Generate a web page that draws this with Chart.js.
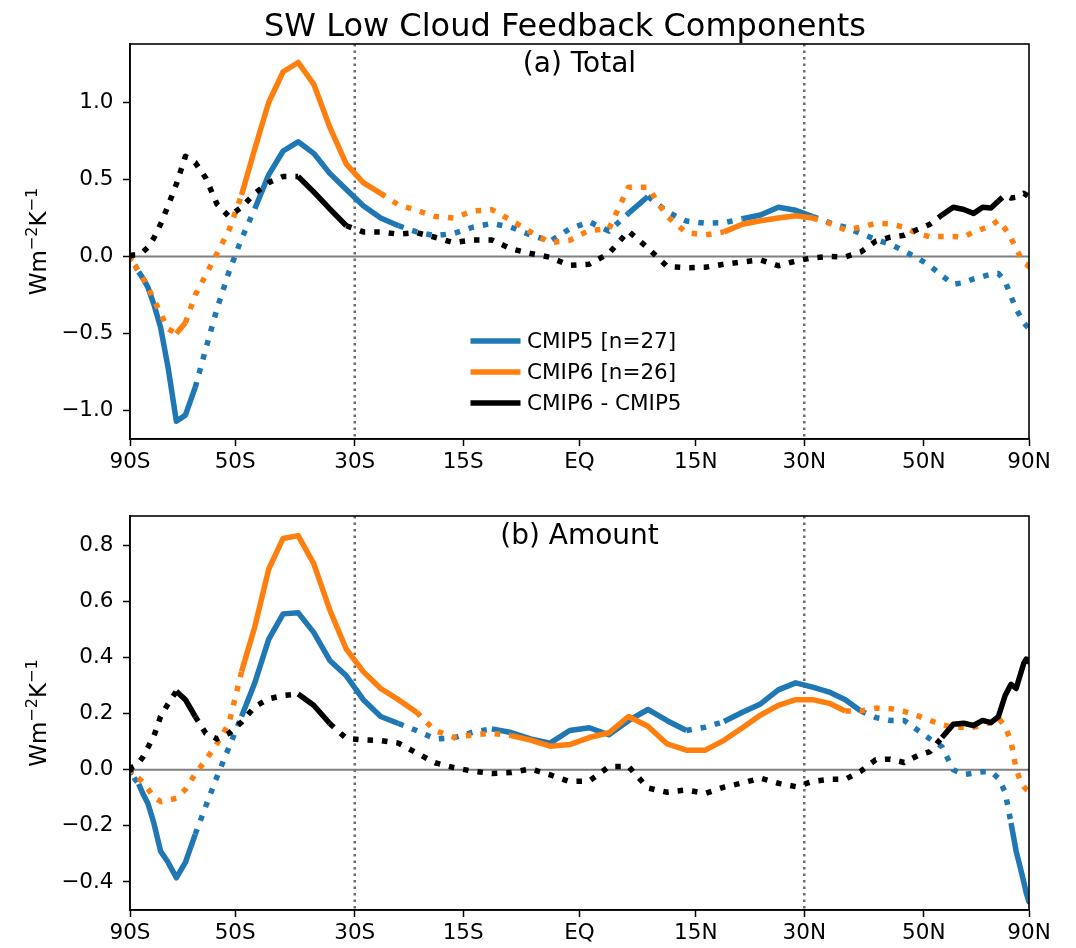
<!DOCTYPE html>
<html>
<head>
<meta charset="utf-8">
<title>SW Low Cloud Feedback Components</title>
<script src="https://cdn.jsdelivr.net/npm/chart.js@4.4.0/dist/chart.umd.min.js"></script>
<style>
  html, body { margin: 0; padding: 0; background: #fff; }
  #page { position: relative; width: 1076px; height: 948px; overflow: hidden; }
  #page canvas { position: absolute; left: 0; }
</style>
</head>
<body>
<div id="page">
  <canvas id="totalChart" width="1076" height="490" style="top:0"></canvas>
  <canvas id="amountChart" width="1076" height="458" style="top:490px"></canvas>
</div>
<script>
// Zonal-mean latitudes (degrees, cell centres)
const latitudes = [
  -88.75, -86.25, -83.75, -81.25, -78.75, -76.25, -73.75, -71.25, -68.75, -66.25,
  -63.75, -61.25, -58.75, -56.25, -53.75, -51.25, -48.75, -46.25, -43.75, -41.25,
  -38.75, -36.25, -33.75, -31.25, -28.75, -26.25, -23.75, -21.25, -18.75, -16.25,
  -13.75, -11.25, -8.75, -6.25, -3.75, -1.25, 1.25, 3.75, 6.25, 8.75,
  11.25, 13.75, 16.25, 18.75, 21.25, 23.75, 26.25, 28.75, 31.25, 33.75,
  36.25, 38.75, 41.25, 43.75, 46.25, 48.75, 51.25, 53.75, 56.25, 58.75,
  61.25, 63.75, 66.25, 68.75, 71.25, 73.75, 76.25, 78.75, 81.25, 83.75,
  86.25, 88.75
];

// x-axis ticks (latitude, label)
const xTickLats = [-90, -50, -30, -15, 0, 15, 30, 50, 90];
const xTickLabels = ['90S', '50S', '30S', '15S', 'EQ', '15N', '30N', '50N', '90N'];
const guideLats = [-30, 30];

// y-axis ticks
const totalYTicks = [-1.0, -0.5, 0.0, 0.5, 1.0];
const amountYTicks = [-0.4, -0.2, 0.0, 0.2, 0.4, 0.6, 0.8];

// Series labels
const seriesLabels = ['CMIP5 [n=27]', 'CMIP6 [n=26]', 'CMIP6 - CMIP5'];

// (a) Total SW low cloud feedback (W m-2 K-1)
const totalCmip5 = [
  0.00, -0.015, -0.035, -0.06, -0.10, -0.14, -0.20, -0.31, -0.46, -0.72,
  -1.07, -1.03, -0.85, -0.60, -0.34, -0.10, 0.115, 0.31, 0.53, 0.685,
  0.745, 0.67, 0.54, 0.435, 0.33, 0.25, 0.20, 0.16, 0.135, 0.15,
  0.19, 0.215, 0.19, 0.14, 0.10, 0.18, 0.225, 0.165, 0.28, 0.39,
  0.29, 0.23, 0.216, 0.22, 0.245, 0.27, 0.32, 0.30, 0.26, 0.22,
  0.19, 0.15, 0.11, 0.08, 0.035, -0.01, -0.06, -0.125, -0.18, -0.17,
  -0.145, -0.13, -0.115, -0.11, -0.16, -0.26, -0.34, -0.39, -0.43, -0.45,
  -0.46, -0.47
];
const totalCmip6 = [
  0.00, -0.015, -0.035, -0.06, -0.10, -0.14, -0.20, -0.28, -0.37, -0.47,
  -0.50, -0.43, -0.25, -0.12, 0.02, 0.17, 0.40, 0.70, 1.00, 1.20,
  1.26, 1.12, 0.84, 0.60, 0.48, 0.41, 0.335, 0.30, 0.26, 0.25,
  0.295, 0.305, 0.235, 0.16, 0.09, 0.105, 0.17, 0.18, 0.45, 0.45,
  0.26, 0.155, 0.14, 0.16, 0.21, 0.232, 0.25, 0.265, 0.25, 0.216,
  0.173, 0.19, 0.215, 0.212, 0.19, 0.15, 0.128, 0.13, 0.13, 0.127,
  0.16, 0.18, 0.20, 0.235, 0.18, 0.12, 0.05, 0.0, -0.04, -0.05,
  -0.06, -0.065
];
const totalDiff = [
  0.00, 0.00, 0.01, 0.01, 0.02, 0.03, 0.06, 0.12, 0.21, 0.33,
  0.47, 0.65, 0.61, 0.51, 0.34, 0.26, 0.32, 0.41, 0.48, 0.52,
  0.52, 0.42, 0.31, 0.20, 0.16, 0.16, 0.145, 0.155, 0.125, 0.09,
  0.108, 0.108, 0.05, 0.02, -0.005, -0.058, -0.05, 0.02, 0.165, 0.055,
  -0.065, -0.073, -0.07, -0.05, -0.035, -0.022, -0.06, -0.03, -0.008, 0.0,
  -0.003, 0.03, 0.10, 0.126, 0.138, 0.175, 0.21, 0.27, 0.32, 0.305,
  0.28, 0.32, 0.315, 0.36, 0.40, 0.38, 0.385, 0.40, 0.41, 0.40,
  0.39, 0.38
];

// (b) Cloud amount component (W m-2 K-1)
const amountCmip5 = [
  0.00, -0.01, -0.02, -0.035, -0.05, -0.085, -0.12, -0.19, -0.29, -0.33,
  -0.385, -0.33, -0.23, -0.13, -0.025, 0.08, 0.19, 0.31, 0.465, 0.556,
  0.56, 0.49, 0.39, 0.335, 0.25, 0.19, 0.165, 0.14, 0.11, 0.114,
  0.134, 0.146, 0.133, 0.11, 0.095, 0.14, 0.15, 0.125, 0.175, 0.215,
  0.175, 0.14, 0.152, 0.172, 0.205, 0.235, 0.285, 0.31, 0.295, 0.277,
  0.25, 0.21, 0.186, 0.176, 0.176, 0.142, 0.11, 0.082, 0.0, -0.017,
  -0.012, -0.007, -0.007, -0.03, -0.08, -0.19, -0.29, -0.35, -0.40, -0.44,
  -0.46, -0.47
];
const amountCmip6 = [
  0.00, -0.005, -0.015, -0.022, -0.03, -0.045, -0.068, -0.098, -0.113, -0.108,
  -0.102, -0.07, -0.015, 0.035, 0.094, 0.165, 0.35, 0.51, 0.715, 0.825,
  0.835, 0.735, 0.57, 0.43, 0.35, 0.29, 0.25, 0.205, 0.14, 0.116,
  0.124, 0.13, 0.122, 0.106, 0.084, 0.09, 0.115, 0.132, 0.19, 0.155,
  0.092, 0.07, 0.07, 0.105, 0.15, 0.195, 0.23, 0.25, 0.25, 0.237,
  0.21, 0.21, 0.22, 0.218, 0.208, 0.193, 0.176, 0.16, 0.152, 0.152,
  0.152, 0.158, 0.17, 0.185, 0.155, 0.10, 0.005, -0.04, -0.06, -0.07,
  -0.074, -0.076
];
const amountDiff = [
  0.00, 0.005, 0.01, 0.015, 0.025, 0.045, 0.08, 0.12, 0.19, 0.235,
  0.28, 0.25, 0.19, 0.13, 0.11, 0.13, 0.17, 0.225, 0.253, 0.265,
  0.27, 0.23, 0.165, 0.112, 0.107, 0.104, 0.095, 0.06, 0.025, 0.008,
  -0.005, -0.013, -0.01, 0.003, -0.018, -0.042, -0.04, 0.011, 0.012, -0.065,
  -0.08, -0.072, -0.084, -0.062, -0.047, -0.03, -0.048, -0.06, -0.042, -0.034,
  -0.034, -0.005, 0.036, 0.038, 0.026, 0.05, 0.065, 0.115, 0.162, 0.166,
  0.158, 0.176, 0.168, 0.19, 0.265, 0.305, 0.29, 0.34, 0.38, 0.395,
  0.39, 0.385
];

// Latitude bands where the mean is significant (drawn solid; dotted elsewhere)
const totalCmip5Solid = [[-78.75, -58.75], [-46.25, -23.75], [6.25, 8.75], [21.25, 31.25]];
const totalCmip6Solid = [[-63.75, -61.25], [-48.75, -26.25], [18.75, 31.25]];
const totalDiffSolid = [[-38.75, -31.25], [53.75, 68.75]];
const amountCmip5Solid = [[-78.75, -58.75], [-48.75, -23.75], [-11.25, 13.75], [18.75, 38.75], [73.75, 88.75]];
const amountCmip6Solid = [[-48.75, -21.25], [-8.75, 36.25]];
const amountDiffSolid = [[-63.75, -58.75], [-38.75, -33.75], [53.75, 88.75]];

const COLORS = ['#1f77b4', '#ff7f0e', '#000000'];
const FONT = "'DejaVu Sans', 'Liberation Sans', sans-serif";
const LINE_W = 5.5;
const DOTS = [5.5, 9];

Chart.defaults.font.family = FONT;
Chart.defaults.font.size = 21.5;
Chart.defaults.color = '#000';

const sinLat = lat => Math.sin(lat * Math.PI / 180);

function inSolid(ranges, a, b) {
  return ranges.some(([lo, hi]) => a >= lo - 1e-6 && b <= hi + 1e-6);
}

function makeDataset(label, values, ranges, color, order) {
  return {
    label,
    data: latitudes.map((lat, i) => ({ x: sinLat(lat), y: values[i] })),
    borderColor: color,
    borderWidth: LINE_W,
    pointRadius: 0,
    borderJoinStyle: 'round',
    borderCapStyle: 'butt',
    tension: 0,
    fill: false,
    order,
    segment: {
      borderDash: c => inSolid(ranges, latitudes[c.p0DataIndex], latitudes[c.p1DataIndex]) ? [] : DOTS
    }
  };
}

function fmtY(v) {
  const s = Math.abs(v).toFixed(1);
  return v < -1e-9 ? '\u2212' + s : s;
}

// Rotated unit label with raised exponents: Wm^-2 K^-1
function drawUnitLabel(ctx, bx, cy, size) {
  const sup = size * 0.7;
  const parts = [['Wm', false], ['\u22122', true], ['K', false], ['\u22121', true]];
  ctx.save();
  ctx.translate(bx, cy);
  ctx.rotate(-Math.PI / 2);
  ctx.fillStyle = '#000';
  ctx.textBaseline = 'alphabetic';
  ctx.textAlign = 'left';
  const widths = parts.map(([t, s]) => { ctx.font = `${s ? sup : size}px ${FONT}`; return ctx.measureText(t).width; });
  let x = -widths.reduce((a, b) => a + b, 0) / 2;
  parts.forEach(([t, s], i) => {
    ctx.font = `${s ? sup : size}px ${FONT}`;
    ctx.fillText(t, x, s ? -size * 0.38 : 0);
    x += widths[i];
  });
  ctx.restore();
}

// Axis furniture: zero line, 30S/30N guides, frame, panel label, unit label
function panelPlugin(panelText, extra) {
  return {
    id: 'panelDecor',
    beforeDatasetsDraw(chart) {
      const { ctx, chartArea: a, scales: { x, y } } = chart;
      ctx.save();
      ctx.beginPath();
      ctx.rect(a.left, a.top, a.right - a.left, a.bottom - a.top);
      ctx.clip();
      const y0 = y.getPixelForValue(0);
      ctx.strokeStyle = '#808080';
      ctx.lineWidth = 2;
      ctx.beginPath();
      ctx.moveTo(a.left, y0);
      ctx.lineTo(a.right, y0);
      ctx.stroke();
      ctx.strokeStyle = '#6e6e6e';
      ctx.lineWidth = 2.5;
      ctx.setLineDash([2.5, 4]);
      guideLats.forEach(lat => {
        const px = x.getPixelForValue(sinLat(lat));
        ctx.beginPath();
        ctx.moveTo(px, a.top);
        ctx.lineTo(px, a.bottom);
        ctx.stroke();
      });
      ctx.restore();
    },
    afterDraw(chart) {
      const { ctx, chartArea: a } = chart;
      ctx.save();
      ctx.strokeStyle = '#000';
      ctx.lineWidth = 1.6;
      ctx.strokeRect(a.left, a.top, a.right - a.left, a.bottom - a.top);
      ctx.fillStyle = '#000';
      ctx.font = `28px ${FONT}`;
      ctx.textAlign = 'center';
      ctx.textBaseline = 'alphabetic';
      ctx.fillText(panelText, (a.left + a.right) / 2, a.top + 28);
      drawUnitLabel(ctx, 46, (a.top + a.bottom) / 2, 23);
      ctx.restore();
      if (extra) extra(chart);
    }
  };
}

// Suptitle and legend for the upper panel
function drawTitleAndLegend(chart) {
  const { ctx } = chart;
  ctx.save();
  ctx.fillStyle = '#000';
  ctx.font = `32px ${FONT}`;
  ctx.textAlign = 'center';
  ctx.textBaseline = 'alphabetic';
  ctx.fillText('SW Low Cloud Feedback Components', 565, 36);

  const rows = [341, 372, 403];
  chart.data.datasets.forEach((ds, i) => {
    const yy = rows[i];
    ctx.strokeStyle = ds.borderColor;
    ctx.lineWidth = LINE_W;
    ctx.lineCap = 'butt';
    ctx.setLineDash([]);
    ctx.beginPath();
    ctx.moveTo(470.5, yy);
    ctx.lineTo(520.5, yy);
    ctx.stroke();
    ctx.fillStyle = '#000';
    ctx.font = `21.5px ${FONT}`;
    ctx.textAlign = 'left';
    ctx.textBaseline = 'middle';
    ctx.fillText(ds.label, 527, yy + 1);
  });
  ctx.restore();
}

function axisGrid() {
  return { drawOnChartArea: false, drawTicks: true, tickLength: 7, tickWidth: 1.5, tickColor: '#000' };
}

function buildChart(canvasId, series, yMin, yMax, yTicks, pad, xHeight, panelText, extra) {
  return new Chart(document.getElementById(canvasId), {
    type: 'line',
    data: {
      datasets: series.map((s, i) => makeDataset(seriesLabels[i], s.values, s.solid, COLORS[i], 3 - i))
    },
    options: {
      responsive: false,
      animation: false,
      events: [],
      layout: { padding: pad },
      plugins: { legend: { display: false }, tooltip: { enabled: false }, title: { display: false } },
      scales: {
        x: {
          type: 'linear',
          min: -1,
          max: 1,
          afterBuildTicks: sc => { sc.ticks = xTickLats.map(l => ({ value: sinLat(l) })); },
          ticks: { autoSkip: false, maxRotation: 0, padding: 4, callback: (v, i) => xTickLabels[i] },
          grid: axisGrid(),
          border: { display: true, color: '#000', width: 1.6 },
          afterFit: sc => { sc.height = xHeight; }
        },
        y: {
          type: 'linear',
          min: yMin,
          max: yMax,
          afterBuildTicks: sc => { sc.ticks = yTicks.map(v => ({ value: v })); },
          ticks: { autoSkip: false, padding: 9.5, callback: v => fmtY(v) },
          grid: axisGrid(),
          border: { display: true, color: '#000', width: 1.6 },
          afterFit: sc => { sc.width = 130; }
        }
      }
    },
    plugins: [panelPlugin(panelText, extra)]
  });
}

buildChart('totalChart',
  [
    { values: totalCmip5, solid: totalCmip5Solid },
    { values: totalCmip6, solid: totalCmip6Solid },
    { values: totalDiff, solid: totalDiffSolid }
  ],
  -1.185, 1.38, totalYTicks,
  { top: 44, right: 47, left: 0, bottom: 0 }, 51,
  '(a) Total', drawTitleAndLegend);

buildChart('amountChart',
  [
    { values: amountCmip5, solid: amountCmip5Solid },
    { values: amountCmip6, solid: amountCmip6Solid },
    { values: amountDiff, solid: amountDiffSolid }
  ],
  -0.5, 0.905, amountYTicks,
  { top: 26, right: 47, left: 0, bottom: 0 }, 38,
  '(b) Amount', null);
</script>
</body>
</html>
